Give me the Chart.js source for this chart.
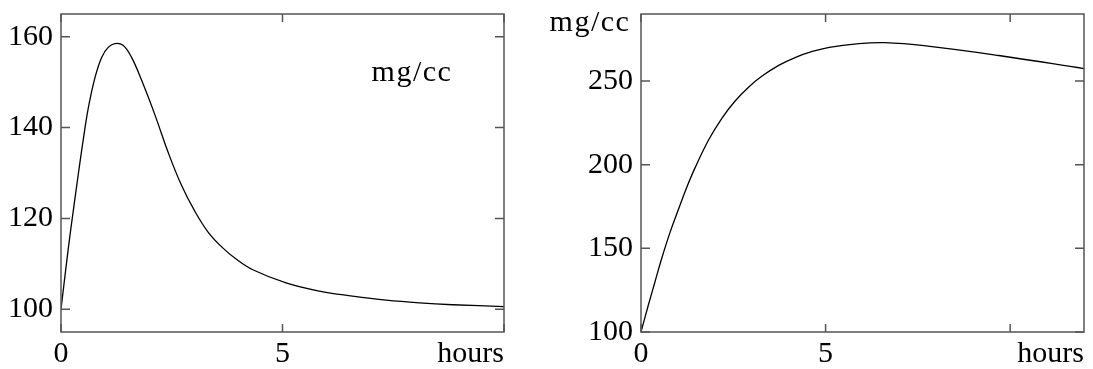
<!DOCTYPE html>
<html>
<head>
<meta charset="utf-8">
<script src="https://cdn.jsdelivr.net/npm/chart.js@4"></script>
<style>
  html, body { margin: 0; padding: 0; background: #fff; }
  #wrap { position: relative; width: 1093px; height: 369px; }
  canvas { position: absolute; top: 0; }
</style>
</head>
<body>
<div id="wrap">
  <canvas id="leftChart" width="546" height="369" style="left:0"></canvas>
  <canvas id="rightChart" width="547" height="369" style="left:546px"></canvas>
</div>
<script>
// left panel: concentration after a quick dose
const leftHours = [0, 0.17, 0.28, 0.39, 0.5, 0.62, 0.77, 0.92, 1.07, 1.22, 1.4, 1.59, 1.82, 2.12, 2.42, 2.72, 3.02, 3.32, 3.62, 3.96, 4.33, 5.08, 5.83, 6.58, 7.34, 8.09, 8.84, 10];
const leftConc = [100, 113.8, 121.9, 129.7, 137.2, 144.5, 151.1, 155.5, 157.7, 158.5, 158.1, 155.5, 150.4, 142.8, 134.5, 127.3, 121.6, 117.0, 113.8, 111.0, 108.7, 105.8, 104.0, 102.9, 102.0, 101.4, 101.0, 100.6];
const leftXTicks = [0, 5, 10];
const leftYTicks = [100, 120, 140, 160];

// right panel: slower rise, long plateau
const rightHours = [0, 0.19, 0.37, 0.55, 0.78, 1.01, 1.23, 1.46, 1.83, 2.19, 2.55, 2.92, 3.28, 3.73, 4.19, 4.64, 5.1, 5.84, 6.61, 7.77, 9.69, 12];
const rightConc = [100, 115.4, 129.3, 143.2, 159.1, 173, 185.9, 197.9, 214.7, 227.7, 238.0, 246.4, 252.9, 259.3, 264.1, 267.6, 270.1, 272.2, 272.9, 270.8, 265.2, 257.4];
const rightXTicks = [0, 5, 10];
const rightYTicks = [100, 150, 200, 250];

const unitLabel = "mg/cc";
const xLabel = "hours";

Chart.defaults.font.family = '"Liberation Serif", "Times New Roman", serif';
Chart.defaults.font.size = 30;
Chart.defaults.color = "#000";

// box round the plot area, inward tick marks, unit label
const framePlugin = {
  id: "frame",
  afterDatasetsDraw(chart, args, opts) {
    const { ctx, chartArea: a, scales: { x, y } } = chart;
    ctx.save();
    ctx.strokeStyle = "#555";
    ctx.lineWidth = 1.5;
    ctx.strokeRect(a.left, a.top, a.right - a.left, a.bottom - a.top);
    ctx.beginPath();
    x.ticks.forEach(t => {
      const px = x.getPixelForValue(t.value);
      ctx.moveTo(px, a.bottom); ctx.lineTo(px, a.bottom - 8);
      ctx.moveTo(px, a.top); ctx.lineTo(px, a.top + 8);
    });
    y.ticks.forEach(t => {
      const py = y.getPixelForValue(t.value);
      ctx.moveTo(a.left, py); ctx.lineTo(a.left + 9, py);
      ctx.moveTo(a.right, py); ctx.lineTo(a.right - 9, py);
    });
    ctx.stroke();
    ctx.fillStyle = "#000";
    ctx.font = '30px "Liberation Serif", serif';
    ctx.letterSpacing = "1.5px";
    ctx.textAlign = "center";
    ctx.textBaseline = "alphabetic";
    ctx.fillText(unitLabel, opts.textX, opts.textY);
    ctx.restore();
  }
};

function makeChart(id, hours, conc, xMax, yMin, yMax, xTicks, yTicks, yWidth, pad, textX, textY) {
  return new Chart(document.getElementById(id), {
    type: "line",
    data: {
      datasets: [{
        data: hours.map((h, i) => ({ x: h, y: conc[i] })),
        borderColor: "#000",
        borderWidth: 1.3,
        pointRadius: 0,
        fill: false,
        tension: 0.4
      }]
    },
    options: {
      responsive: false,
      animation: false,
      layout: { padding: pad },
      plugins: {
        legend: { display: false },
        tooltip: { enabled: false },
        frame: { textX: textX, textY: textY }
      },
      scales: {
        x: {
          type: "linear",
          min: 0,
          max: xMax,
          grid: { display: false, drawTicks: false },
          border: { display: false },
          ticks: {
            padding: 4,
            maxRotation: 0,
            autoSkip: false,
            callback: v => (v === 0 || v === 5) ? String(v) : ""
          },
          title: {
            display: true,
            text: xLabel,
            align: "end",
            padding: { top: 0, bottom: 0 },
            font: { size: 30, lineHeight: 1 }
          },
          afterBuildTicks: s => { s.ticks = xTicks.map(v => ({ value: v })); },
          afterFit: s => {
            s.height = 37;
            s.paddingLeft = s.paddingRight = s.paddingTop = s.paddingBottom = 0;
          }
        },
        y: {
          min: yMin,
          max: yMax,
          grid: { display: false, drawTicks: false },
          border: { display: false },
          ticks: { padding: 8 },
          afterBuildTicks: s => { s.ticks = yTicks.map(v => ({ value: v })); },
          afterFit: s => {
            s.width = yWidth;
            s.paddingLeft = s.paddingRight = s.paddingTop = s.paddingBottom = 0;
          }
        }
      }
    },
    plugins: [framePlugin]
  });
}

makeChart("leftChart", leftHours, leftConc, 10, 95, 165, leftXTicks, leftYTicks, 61,
  { top: 14, right: 42, left: 0, bottom: 0 }, 412, 81);
makeChart("rightChart", rightHours, rightConc, 12, 100, 290, rightXTicks, rightYTicks, 95,
  { top: 14, right: 9, left: 0, bottom: 0 }, 44, 31);
</script>
</body>
</html>
